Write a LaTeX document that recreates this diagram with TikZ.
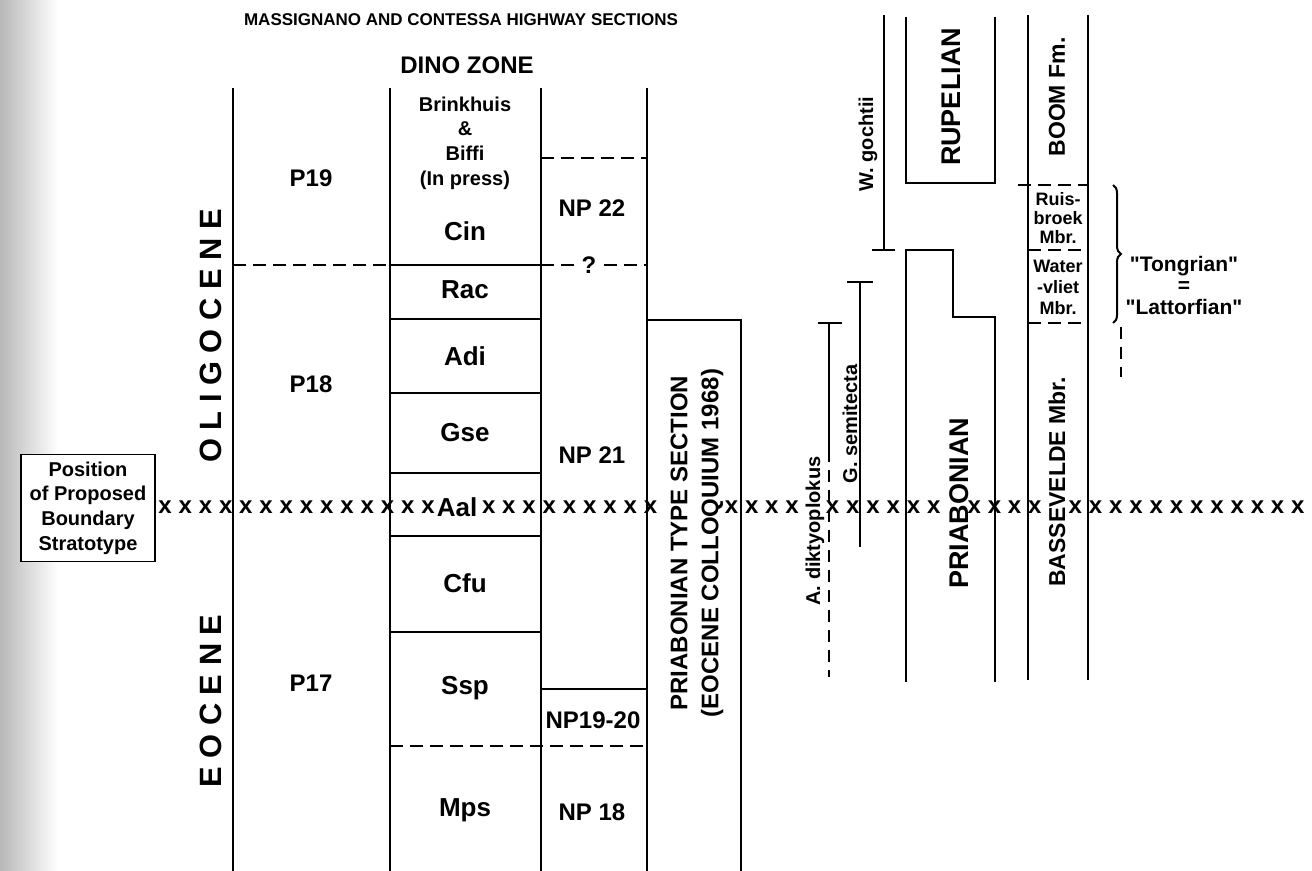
\documentclass[tikz,border=0pt]{standalone}
\usepackage{fontspec}
\setmainfont{Liberation Sans}[Ligatures=TeXOff]
\usetikzlibrary{decorations.pathreplacing}

\begin{document}
\begin{tikzpicture}[x=0.5pt,y=-0.5pt,line width=1.3pt,
  every node/.style={inner sep=0pt},
  title/.style={font=\fontsize{8.5}{10}\selectfont\bfseries},
  head/.style={font=\fontsize{12}{14}\selectfont\bfseries},
  zone/.style={font=\fontsize{13}{15}\selectfont\bfseries},
  note/.style={font=\fontsize{10}{12.3}\selectfont\bfseries, align=center},
  epoch/.style={font=\fontsize{15.4}{18}\selectfont\bfseries, rotate=90},
  typesec/.style={font=\fontsize{12}{15.5}\selectfont\bfseries, rotate=90, align=center},
  stage/.style={font=\fontsize{13.5}{16}\selectfont\bfseries, rotate=90},
  formation/.style={font=\fontsize{11.5}{14}\selectfont\bfseries, rotate=90},
  taxon/.style={font=\fontsize{10}{12}\selectfont\bfseries, rotate=90},
  member/.style={font=\fontsize{9}{9.5}\selectfont\bfseries, align=center},
  dashline/.style={line width=1.2pt, dash pattern=on 6.5pt off 3.5pt},
  rangeline/.style={line width=1pt},
  rangedash/.style={line width=1pt, dash pattern=on 6pt off 4pt}]
\useasboundingbox (0,0) rectangle (1312,871);
\shade[left color=black!28, right color=white] (0,0) rectangle (58,871);

% headings
\node[title] (title) at (461,20) {MASSIGNANO AND CONTESSA HIGHWAY SECTIONS};
\node[head] (dinozone) at (467,65) {DINO ZONE};

% boundary level
\foreach \a/\b in {0/13,16/24,28/31,33/38,40/43,45/56}
  \foreach \i in {\a,...,\b}
    \node[head] (x\i) at ({165+20.23*\i},507) {x};
\node[note, draw, fill=white, line width=0.9pt, minimum width=67pt, minimum height=53.5pt] (boundary) at (88,508) {Position\\of Proposed\\Boundary\\Stratotype};

% Massignano columns
\foreach \x in {233,390,541,647}
  \draw (\x,88) -- (\x,871);
\node[epoch] (oligocene) at (211,336) {O L I G O C E N E};
\node[epoch] (eocene) at (211,701) {E O C E N E};

\draw[dashline] (233,265) -- (390,265);
\node[head] (p19) at (311,178) {P19};
\node[head] (p18) at (311,384) {P18};
\node[head] (p17) at (311,683) {P17};

\foreach \y in {265,319,393,473,536,632}
  \draw (390,\y) -- (541,\y);
\draw[dashline] (390,746) -- (647,746);
\node[note] (brinkhuis) at (465,143) {Brinkhuis\\\&\\Biffi\\(In press)};
\node[zone] (cin) at (465,231) {Cin};
\node[zone] (rac) at (465,290) {Rac};
\node[zone] (adi) at (465,356) {Adi};
\node[zone] (gse) at (465,433) {Gse};
\node[zone] (aal) at (457,507) {Aal};
\node[zone] (cfu) at (465,583) {Cfu};
\node[zone] (ssp) at (465,688) {Ssp};
\node[zone] (mps) at (465,810) {Mps};

\draw[dashline] (541,158) -- (647,158);
\node[head, inner xsep=3pt] (query) at (589,265) {?};
\draw[dashline] (541,265) -- (query);
\draw[dashline] (query) -- (647,265);
\draw (541,689) -- (647,689);
\node[head] (np22) at (592,208) {NP 22};
\node[head] (np21) at (592,455) {NP 21};
\node[head] (np1920) at (593,720) {NP19-20};
\node[head] (np18) at (592,812) {NP 18};

\draw (647,320) -- (741,320) -- (741,871);
\node[typesec] (typesection) at (697,543) {PRIABONIAN TYPE SECTION\\(EOCENE COLLOQUIUM 1968)};

% taxon ranges
\draw[rangeline] (818,323) -- (842,323);
\draw[rangeline] (829,323) -- (829,450);
\draw[rangedash] (829,450) -- (829,677);
\node[taxon] (diktyoplokus) at (815,531) {A. diktyoplokus};
\draw[rangeline] (847,282) -- (873,282);
\draw[rangeline] (860,282) -- (860,547);
\node[taxon] (semitecta) at (850,424) {G. semitecta};
\draw[rangeline] (884,15) -- (884,250);
\draw[rangeline] (872,250) -- (895,250);
\node[taxon] (gochtii) at (868,144) {W. gochtii};

% stages
\draw (906,17) -- (906,183) -- (995,183) -- (995,17);
\node[stage] (rupelian) at (951,97) {RUPELIAN};
\draw (906,682) -- (906,250) -- (953,250) -- (953,317) -- (995,317) -- (995,682);
\node[stage] (priabonian) at (959,503) {PRIABONIAN};

% Belgian units
\draw (1028,15) -- (1028,680);
\draw (1088,15) -- (1088,680);
\draw[dashline] (1018,185) -- (1088,185);
\draw[dashline] (1028,250) -- (1088,250);
\draw[dashline] (1028,323) -- (1088,323);
\node[formation] (boom) at (1057,97) {BOOM Fm.};
\node[member] (ruisbroek) at (1058,218) {Ruis-\\broek\\Mbr.};
\node[member, font=\fontsize{9}{10.5}\selectfont\bfseries] (watervliet) at (1058,287) {Water\\-vliet\\Mbr.};
\node[formation] (bassevelde) at (1057,482) {BASSEVELDE Mbr.};

\draw[rangeline, decorate, decoration={brace, amplitude=4pt}] (1113,185) -- (1113,323);
\draw[rangedash] (1121,327) -- (1121,377);
\node[note, font=\fontsize{10.5}{10.75}\selectfont\bfseries] (tongrian) at (1184,285) {"Tongrian"\\=\\"Lattorfian"};
\end{tikzpicture}
\end{document}
